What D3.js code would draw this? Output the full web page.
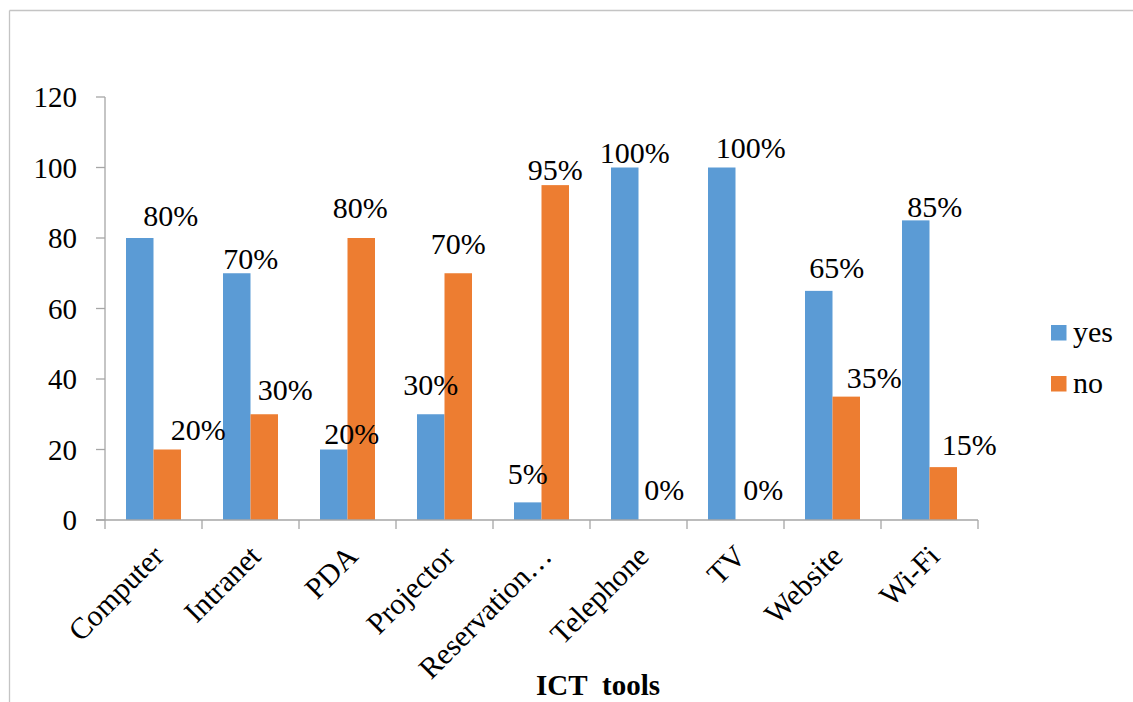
<!DOCTYPE html>
<html><head><meta charset="utf-8"><script src="https://cdn.jsdelivr.net/npm/d3@7/dist/d3.min.js"></script></head>
<body style="margin:0">
<svg id="s" width="1133" height="702"></svg>
<script>
// Share of respondents using each ICT tool
const categories = ["Computer", "Intranet", "PDA", "Projector", "Reservation\u2026", "Telephone", "TV", "Website", "Wi-Fi"];
const seriesNames = ["yes", "no"];
const yesValues = [80, 70, 20, 30, 5, 100, 100, 65, 85];
const noValues = [20, 30, 80, 70, 95, 0, 0, 35, 15];
const yTicks = [0, 20, 40, 60, 80, 100, 120];
const axisTitle = "ICT\u00a0\u00a0tools";

// Hand-placed offsets of the value labels (dx, dy) from their default spot
const yesLabelNudge = [[31, 7], [14, 15], [18, 13], [0, 0], [0, 1], [10, 14], [29, 9], [18, 6], [19, 16]];
const noLabelNudge = [[31, 9], [21, 5], [-1, -1], [0, 0], [0, 14], [12, -1], [14, -1], [28, 10], [26, 7]];

const colors = { yes: "#5B9BD5", no: "#ED7D31" };
const axisColor = "#a6a6a6";

const s = d3.select("#s");

// outer frame
s.append("line").attr("x1", 9.5).attr("y1", 10.5).attr("x2", 1133).attr("y2", 10.5)
  .attr("stroke", "#c4c4c4").attr("stroke-width", 1.3);
s.append("line").attr("x1", 9.5).attr("y1", 10.5).attr("x2", 9.5).attr("y2", 702)
  .attr("stroke", "#c4c4c4").attr("stroke-width", 1.3);

const plot = { left: 105, right: 978, top: 97, bottom: 520 };

const x = d3.scaleBand().domain(categories).range([plot.left, plot.right]).padding(0);
const x1 = d3.scaleBand().domain(seriesNames).range([0, x.bandwidth()]).paddingInner(0).paddingOuter(0.764);
const y = d3.scaleLinear().domain([0, 120]).range([plot.bottom, plot.top]);

const rows = categories.map((c, i) => ({ cat: c, yes: yesValues[i], no: noValues[i], i }));
const bars = [];
rows.forEach(r => seriesNames.forEach(k => {
  const nudge = (k === "yes" ? yesLabelNudge : noLabelNudge)[r.i];
  bars.push({ cat: r.cat, k, v: r[k], dx: nudge[0], dy: nudge[1] });
}));

// bars
s.selectAll("rect.bar").data(bars).join("rect").attr("class", "bar")
  .attr("x", d => x(d.cat) + x1(d.k))
  .attr("width", x1.bandwidth())
  .attr("y", d => y(d.v))
  .attr("height", d => y(0) - y(d.v))
  .attr("fill", d => colors[d.k]);

// y axis line and ticks
s.append("line").attr("x1", plot.left).attr("x2", plot.left).attr("y1", plot.top).attr("y2", plot.bottom)
  .attr("stroke", axisColor).attr("stroke-width", 1.3);
s.selectAll("line.ytk").data(yTicks).join("line").attr("class", "ytk")
  .attr("x1", plot.left - 9).attr("x2", plot.left).attr("y1", d => y(d)).attr("y2", d => y(d))
  .attr("stroke", axisColor).attr("stroke-width", 1.3);
s.selectAll("text.ytl").data(yTicks).join("text").attr("class", "ytl")
  .attr("x", plot.left - 28).attr("y", d => y(d) + 10).attr("font-size", 29).attr("text-anchor", "end")
  .style("font-family", "Liberation Serif")
  .text(d => d);

// x axis line and category separators
s.append("line").attr("x1", plot.left - 9).attr("x2", plot.right).attr("y1", plot.bottom).attr("y2", plot.bottom)
  .attr("stroke", axisColor).attr("stroke-width", 1.3);
const sepPositions = categories.map(c => x(c)).concat([x(categories[categories.length - 1]) + x.bandwidth()]);
s.selectAll("line.sep").data(sepPositions).join("line").attr("class", "sep")
  .attr("x1", d => d).attr("x2", d => d).attr("y1", plot.bottom).attr("y2", plot.bottom + 9)
  .attr("stroke", axisColor).attr("stroke-width", 1.3);

// rotated category labels
s.selectAll("text.cat").data(categories).join("text").attr("class", "cat")
  .attr("transform", c => `translate(${x(c) + x.bandwidth() / 2 + 12},${plot.bottom + 38}) rotate(-45)`)
  .attr("font-size", 30).attr("text-anchor", "end")
  .style("font-family", "Liberation Serif")
  .text(c => c);

// value labels
s.selectAll("text.val").data(bars).join("text").attr("class", "val")
  .attr("x", d => x(d.cat) + x1(d.k) + x1.bandwidth() / 2 + d.dx)
  .attr("y", d => y(d.v) - 19 + d.dy)
  .attr("font-size", 30).attr("text-anchor", "middle")
  .style("font-family", "Liberation Serif")
  .text(d => d.v + "%");

// axis title
s.append("text").attr("x", 598).attr("y", 695)
  .attr("font-size", 29).attr("font-weight", "bold").attr("text-anchor", "middle")
  .style("font-family", "Liberation Serif")
  .text(axisTitle);

// legend
s.selectAll("rect.key").data(seriesNames).join("rect").attr("class", "key")
  .attr("x", 1051).attr("y", (d, i) => 325 + i * 51).attr("width", 15.5).attr("height", 15.5)
  .attr("fill", d => colors[d]);
s.selectAll("text.key").data(seriesNames).join("text").attr("class", "key")
  .attr("x", 1073).attr("y", (d, i) => 342 + i * 51).attr("font-size", 30)
  .style("font-family", "Liberation Serif")
  .text(d => d);
</script></body></html>
